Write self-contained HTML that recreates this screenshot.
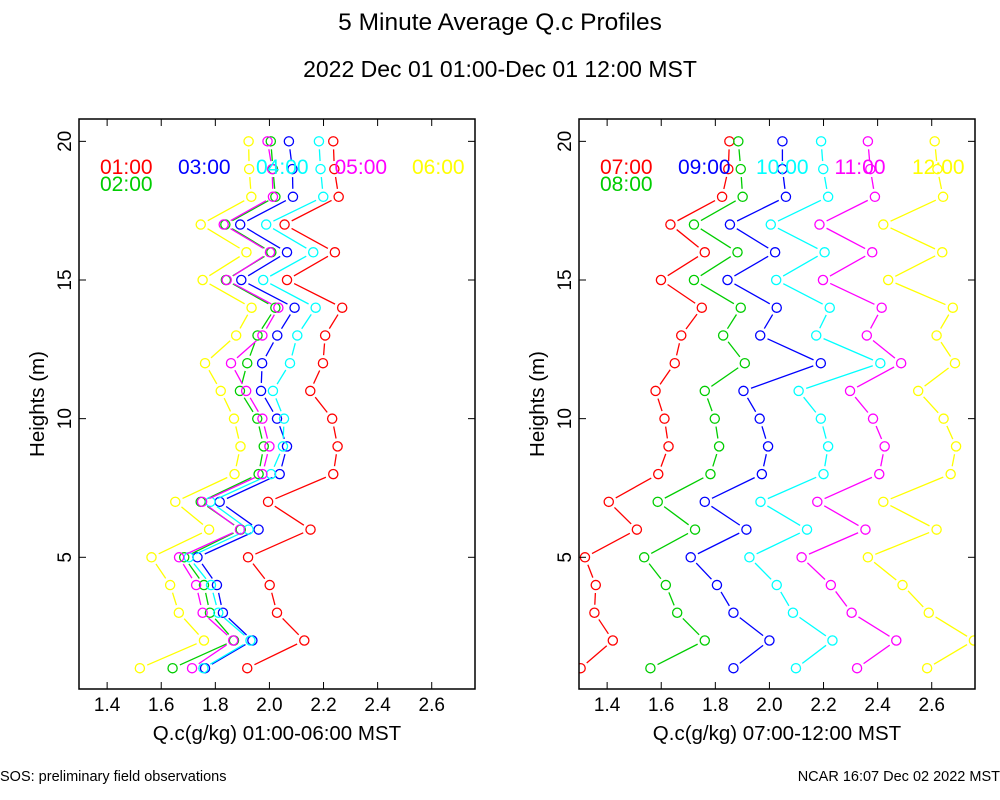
<!DOCTYPE html>
<html><head><meta charset="utf-8"><style>
html,body{margin:0;padding:0;background:#fff;}
svg{display:block;font-family:"Liberation Sans",Arial,sans-serif;}
</style></head><body>
<svg id="chart" width="1000" height="800" viewBox="0 0 1000 800" xmlns="http://www.w3.org/2000/svg">
<rect width="1000" height="800" fill="#fff"/>
<text x="500" y="30" font-size="24.5" text-anchor="middle">5 Minute Average Q.c Profiles</text>
<text x="500" y="77" font-size="23" text-anchor="middle">2022 Dec 01 01:00-Dec 01 12:00 MST</text>
<text x="0" y="781" font-size="14.5">SOS: preliminary field observations</text>
<text x="1000" y="781" font-size="14.5" text-anchor="end">NCAR 16:07 Dec 02 2022 MST</text>
<g id="panels"></g>
</svg>
<script>
const heights = [1,2,3,4,5,6,7,8,9,10,11,12,13,14,15,16,17,18,19,20];
const xTicks = [1.4,1.6,1.8,2.0,2.2,2.4,2.6];
const xTickLabels = ["1.4","1.6","1.8","2.0","2.2","2.4","2.6"];
const yTicks = [5,10,15,20];
const yTickLabels = ["5","10","15","20"];
const leftLabels = ["01:00","02:00","03:00","04:00","05:00","06:00"];
const rightLabels = ["07:00","08:00","09:00","10:00","11:00","12:00"];
const colors = ["#ff0000","#00cd00","#0000ff","#00ffff","#ff00ff","#ffff00"];
const s0100 = [1.918,2.129,2.028,2.001,1.921,2.152,1.995,2.236,2.252,2.232,2.151,2.198,2.206,2.269,2.065,2.242,2.056,2.256,2.240,2.236];
const s0200 = [1.642,1.869,1.780,1.758,1.685,1.894,1.746,1.960,1.979,1.955,1.891,1.918,1.956,2.022,1.839,2.007,1.837,2.022,2.013,2.005];
const s0300 = [1.762,1.937,1.828,1.806,1.734,1.960,1.816,2.038,2.065,2.028,1.969,1.973,2.029,2.093,1.896,2.065,1.892,2.087,2.085,2.072];
const s0400 = [1.756,1.930,1.811,1.784,1.702,1.923,1.782,2.006,2.050,2.054,2.013,2.076,2.103,2.171,1.977,2.162,1.988,2.199,2.189,2.183];
const s0500 = [1.714,1.866,1.753,1.729,1.666,1.891,1.751,1.974,2.000,1.974,1.914,1.858,1.974,2.033,1.842,2.002,1.831,2.013,2.010,1.993];
const s0600 = [1.521,1.758,1.665,1.633,1.564,1.777,1.652,1.871,1.893,1.869,1.820,1.762,1.877,1.934,1.753,1.915,1.746,1.933,1.925,1.923];
const s0700 = [1.302,1.421,1.353,1.358,1.318,1.510,1.406,1.589,1.627,1.612,1.579,1.650,1.674,1.750,1.599,1.761,1.634,1.825,1.848,1.852];
const s0800 = [1.560,1.761,1.659,1.617,1.537,1.725,1.587,1.782,1.814,1.798,1.761,1.909,1.829,1.894,1.721,1.882,1.721,1.901,1.894,1.885];
const s0900 = [1.867,2.000,1.867,1.806,1.709,1.915,1.761,1.972,1.995,1.964,1.904,2.190,1.966,2.027,1.845,2.021,1.854,2.061,2.048,2.048];
const s1000 = [2.098,2.233,2.087,2.027,1.926,2.139,1.967,2.200,2.217,2.190,2.108,2.410,2.173,2.223,2.025,2.204,2.005,2.217,2.199,2.191];
const s1100 = [2.324,2.469,2.304,2.227,2.119,2.355,2.177,2.406,2.426,2.383,2.298,2.487,2.360,2.415,2.198,2.380,2.185,2.390,2.373,2.364];
const s1200 = [2.583,2.756,2.589,2.492,2.364,2.618,2.421,2.670,2.690,2.644,2.550,2.686,2.618,2.678,2.439,2.639,2.421,2.642,2.621,2.611];

const NS="http://www.w3.org/2000/svg";
function mk(tag, attrs, parent){const e=document.createElementNS(NS,tag);for(const k in attrs)e.setAttribute(k,attrs[k]);parent.appendChild(e);return e;}
const root=document.getElementById('panels');
const X0=1.296, X1=2.76;

function panel(off, series, labels, title, pname){
  const L=79+off, R=475+off, T=119, B=689;
  const sx=v=>L+(v-X0)/(X1-X0)*(R-L);
  const sy=h=>557.3-(h-5)*27.73;
  const g=mk('g',{},root);
  
  
  const cid='clip'+off;
  const cp=mk('clipPath',{id:cid},g); mk('rect',{x:L,y:T,width:R-L,height:B-T},cp);
  const data=mk('g',{'clip-path':'url(#'+cid+')'},g);
  series.forEach((vals,si)=>{
    const sg=mk('g',{},data);
    
    
    for(let i=0;i<heights.length-1;i++){
      const x1=sx(vals[i]),y1=sy(heights[i]),x2=sx(vals[i+1]),y2=sy(heights[i+1]);
      const dx=x2-x1,dy=y2-y1,len=Math.hypot(dx,dy),gap=8;
      if(len>2*gap+1){const ux=dx/len,uy=dy/len;
        const ln=mk('line',{x1:x1+ux*gap,y1:y1+uy*gap,x2:x2-ux*gap,y2:y2-uy*gap,stroke:colors[si],'stroke-width':1.3},sg);
        
        }
    }
    vals.forEach((v,i)=>{
      const c=mk('circle',{cx:sx(v),cy:sy(heights[i]),r:4.6,fill:'none',stroke:colors[si],'stroke-width':1.3},sg);
      
      
    });
  });
  const fr=mk('rect',{x:L,y:T,width:R-L,height:B-T,fill:'none',stroke:'#000','stroke-width':1.5},g);
  
  
  xTicks.forEach((t,i)=>{
    const x=sx(t);
    mk('line',{x1:x,y1:B,x2:x,y2:B-7,stroke:'#000','stroke-width':1},g);
    mk('line',{x1:x,y1:T,x2:x,y2:T+7,stroke:'#000','stroke-width':1},g);
    const tx=mk('text',{x:x,y:711,'font-size':19,'text-anchor':'middle'},g);
    tx.textContent=xTickLabels[i];
    
    
  });
  yTicks.forEach((t,i)=>{
    const y=sy(t);
    mk('line',{x1:L,y1:y,x2:L+7,y2:y,stroke:'#000','stroke-width':1},g);
    mk('line',{x1:R,y1:y,x2:R-7,y2:y,stroke:'#000','stroke-width':1},g);
    const tx=mk('text',{x:0,y:0,'font-size':19,'text-anchor':'middle',transform:'translate('+(off+71)+','+y+') rotate(-90)'},g);
    tx.textContent=yTickLabels[i];
    
    
  });
  const xt=mk('text',{x:(L+R)/2,y:740,'font-size':20.5,'text-anchor':'middle'},g);
  xt.textContent=title;
  
  
  const yt=mk('text',{x:0,y:0,'font-size':20.5,'text-anchor':'middle',transform:'translate('+(off+44)+',404) rotate(-90)'},g);
  yt.textContent='Heights (m)';
  
  
  const lp=[[100,174],[100,191],[178,174],[256,174],[334.5,174],[412,174]];
  labels.forEach((lb,i)=>{
    const t=mk('text',{x:lp[i][0]+off,y:lp[i][1],'font-size':21,fill:colors[i]},g);
    t.textContent=lb;
    
    
  });
}
panel(0,[s0100,s0200,s0300,s0400,s0500,s0600],leftLabels,'Q.c(g/kg) 01:00-06:00 MST','left-panel');
panel(500,[s0700,s0800,s0900,s1000,s1100,s1200],rightLabels,'Q.c(g/kg) 07:00-12:00 MST','right-panel');
</script>
</body></html>
